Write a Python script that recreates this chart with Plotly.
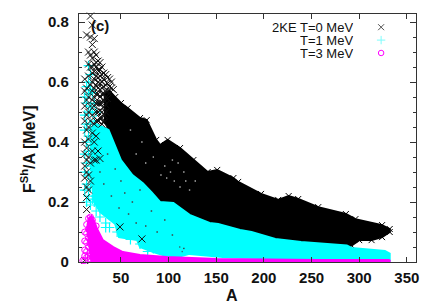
import plotly.graph_objects as go

FONT = "Liberation Sans"
# Envelopes of the dense clouds
black_upper_A = [32, 38, 44, 50, 57, 70, 77, 87, 91, 99, 112, 126, 141, 151, 168, 173, 197, 215, 226, 236, 257, 286, 296, 324, 332]
black_upper_F = [.56, .57, .55, .53, .513, .48, .473, .407, .39, .407, .38, .34, .30, .307, .28, .267, .227, .207, .22, .21, .183, .16, .143, .123, .11]
black_lower_A = [332, 324, 313, 300, 292, 287, 239, 212, 187, 175, 152, 143, 122, 105, 91, 82, 73, 62, 50, 44, 38, 32]
black_lower_F = [.10, .083, .073, .073, .055, .055, .067, .077, .10, .107, .127, .13, .157, .197, .20, .233, .263, .29, .34, .39, .44, .47]
cyan_upper_A = [18, 24, 37, 50, 62, 73, 82, 91, 105, 122, 143, 152, 175, 187, 212, 239, 287, 292, 327, 332]
cyan_upper_F = [.44, .46, .44, .34, .29, .263, .233, .20, .197, .157, .13, .127, .107, .10, .077, .067, .055, .047, .037, .028]
cyan_lower_A = [332, 300, 157, 122, 105, 84, 70, 67, 48, 44, 28, 22, 18]
cyan_lower_F = [.004, .004, .017, .027, .013, .033, .05, .073, .083, .127, .167, .20, .30]
mag_upper_A = [14, 16, 19, 22, 25, 31, 42, 52, 70, 98, 151, 236, 332]
mag_upper_F = [.10, .145, .153, .135, .11, .073, .05, .033, .023, .017, .01, .008, .004]
mag_lower_A = [332, 18]
mag_lower_F = [0, 0]
zero_A = [20, 332]
zero_F = [0, 0]

# Individually visible markers at low A
black_points = {
    12: [.61, .57, .52, .47, .40, .36, .32, .28, .005],
    14: [.757, .58, .54, .49, .44, .38, .34, .30, .25, .215, .175],
    16: [.70, .66, .62, .55, .50, .45, .41, .35, .29, .24],
    18: [.82, .75, .69, .65, .59, .52, .47, .33, .27],
    20: [.79, .725, .68, .65, .63, .60, .57, .54, .49, .43, .37],
    22: [.745, .70, .66, .635, .61, .58, .55, .52, .46, .40, .34],
    24: [.69, .665, .65, .62, .59, .56, .53, .50, .47, .42, .34],
    26: [.67, .64, .615, .60, .58, .56, .53, .50, .47, .37],
    28: [.665, .64, .62, .595, .575, .55, .53, .505, .48, .345],
    30: [.65, .625, .60, .58, .56, .53, .50, .48, .46],
    32: [.63, .61, .585, .56, .54, .515, .49, .465],
    34: [.625, .59, .57, .55, .525, .50],
    36: [.615, .595, .57, .545],
    38: [.61, .585],
    40: [.60, .58],
    42: [.575],
    49: [.117],
    72: [.077],
}
cyan_points = {
    12: [.55, .49, .44, .36, .30, .24],
    14: [.585, .53, .46, .40, .33, .26, .20],
    16: [.655, .60, .56, .50, .42, .37, .29, .22],
    18: [.625, .575, .52, .46, .39, .32, .25, .19],
    20: [.565, .50, .44, .36, .28, .21],
    22: [.53, .47, .41, .34, .27, .20],
    24: [.50, .44, .22, .17],
    28: [.15],
    34: [.13, .115],
    38: [.115],
    46: [.10],
    52: [.11],
    60: [.075, .09],
    70: [.06],
    78: [.045, .035],
    84: [.045],
    113: [.04],
}
mag_points = {
    10: [.005],
    12: [.10, .07, .04, .02, .005],
    14: [.125, .095, .065, .035, .015],
    16: [.145, .11, .08, .05, .02],
    18: [.15, .125, .09, .06, .03, .01],
    20: [.14, .105, .07, .04, .015],
    24: [.12, .085, .02, .01],
    30: [.015, .01],
    38: [.01],
}
# light gaps seen inside the black cloud
gap_A = [60, 66, 72, 76, 84, 92, 96, 98, 102, 104, 106, 110, 112, 116, 118, 122, 128]
gap_F = [.44, .36, .40, .33, .35, .29, .32, .28, .30, .34, .27, .33, .25, .30, .27, .24, .27]
# dark specks seen inside the cyan cloud
speck_A = [28, 32, 36, 40, 44, 48, 50, 54, 58, 62, 66, 70, 76, 82, 88, 96, 104, 112, 114, 116]
speck_F = [.30, .26, .36, .22, .31, .18, .27, .23, .16, .20, .13, .24, .12, .17, .10, .14, .09, .05, .035, .045]

legend_labels = ["2KE T=0 MeV", "T=1 MeV", "T=3 MeV"]
legend_A = [323, 323, 323]
legend_F = [.783, .74, .697]
x_ticks = [50, 100, 150, 200, 250, 300, 350]
y_ticks = [0, .2, .4, .6, .8]
y_tick_text = ["0", "0.2", "0.4", "0.6", "0.8"]
BLACK, CYAN, MAGENTA = "#000000", "#00ffff", "#ff00ff"


def flat(d):
    xs, ys = [], []
    for a, vals in d.items():
        for v in vals:
            xs.append(a)
            ys.append(v)
    return xs, ys


fig = go.Figure()


def band(xu, yu, xl, yl, color, name, sym=None):
    fig.add_trace(go.Scatter(x=xu + xl, y=yu + yl, mode="lines+markers" if sym else "lines", fill="toself",
                             fillcolor=color, line=dict(color=color, width=2),
                             marker=dict(symbol=sym or "circle", size=6, color=color, line=dict(color=color, width=1)),
                             name=name, showlegend=False, cliponaxis=False))


band(black_upper_A, black_upper_F, black_lower_A, black_lower_F, BLACK, "T=0 band", "x-thin")
fig.add_trace(go.Scatter(x=gap_A, y=gap_F, mode="markers", showlegend=False,
                         marker=dict(symbol="square", size=1.4, color="#b0b0b0", line=dict(width=0))))
bx, by = flat(black_points)
band(cyan_upper_A, cyan_upper_F, cyan_lower_A, cyan_lower_F, CYAN, "T=1 band")
fig.add_trace(go.Scatter(x=speck_A, y=speck_F, mode="markers", showlegend=False,
                         marker=dict(symbol="square", size=1.5, color="#404040", line=dict(width=0))))
cx, cy = flat(cyan_points)
fig.add_trace(go.Scatter(x=cx, y=cy, mode="markers", showlegend=False, cliponaxis=False,
                         marker=dict(symbol="cross-thin", size=7, line=dict(color=CYAN, width=1.2), color=CYAN)))
fig.add_trace(go.Scatter(x=bx, y=by, mode="markers", showlegend=False, cliponaxis=False,
                         marker=dict(symbol="x-thin", size=7, line=dict(color="#101010", width=1), color=BLACK)))
band(mag_upper_A, mag_upper_F, mag_lower_A, mag_lower_F, MAGENTA, "T=3 band")
mx, my = flat(mag_points)
fig.add_trace(go.Scatter(x=mx, y=my, mode="markers", showlegend=False, cliponaxis=False,
                         marker=dict(symbol="circle-open", size=6, line=dict(color=MAGENTA, width=1), color=MAGENTA)))
fig.add_trace(go.Scatter(x=zero_A, y=zero_F, mode="lines", showlegend=False, cliponaxis=False,
                         line=dict(color=MAGENTA, width=6)))

# legend keys
for a, f, sym, col, sz in zip(legend_A, legend_F, ["x-thin", "cross-thin", "circle-open"],
                              ["#505050", "#7ffcfc", MAGENTA], [6, 6, 5.5]):
    fig.add_trace(go.Scatter(x=[a], y=[f], mode="markers", showlegend=False,
                             marker=dict(symbol=sym, size=sz, line=dict(color=col, width=1), color=col)))

ann = []
for lab, f in zip(legend_labels, legend_F):
    ann.append(dict(x=287, y=f, xref="x", yref="y", text=lab, showarrow=False, xanchor="right", yanchor="middle",
                    xshift=8, height=12, font=dict(family=FONT, size=13, color="#111111")))
ann.append(dict(x=16, y=.79, xref="x", yref="y", text="<b>(c)</b>", showarrow=False, xanchor="left",
                yanchor="middle", font=dict(family=FONT, size=15, color="#111111")))
# axis titles
ann.append(dict(x=(232 - 79) / 337, y=-(295 - 262) / 248, xref="paper", yref="paper", text="<b>A</b>",
                showarrow=False, xanchor="center", yanchor="middle", font=dict(family=FONT, size=16, color="#111111")))
ann.append(dict(x=(28 - 79) / 337, y=(262 - 150) / 248, xref="paper", yref="paper",
                text="<b>F<sup>Sh</sup>/A [MeV]</b>", textangle=-90,
                showarrow=False, xanchor="center", yanchor="middle", font=dict(family=FONT, size=16, color="#111111")))
fig.update_layout(
    width=436, height=304, autosize=False, paper_bgcolor="white", plot_bgcolor="white",
    margin=dict(l=71, r=28, t=6, b=50, autoexpand=False), showlegend=False, annotations=ann,
    font=dict(family=FONT, size=15, color="#111111"),
    xaxis=dict(range=[6, 359.6], tickvals=x_ticks, ticks="inside", ticklen=5, tickwidth=1, tickcolor="#333",
               showgrid=False, zeroline=False, showline=True, linecolor="#333", linewidth=1.3, mirror="ticks",
               layer="above traces", ticklabelstandoff=2,
               tickfont=dict(family=FONT, size=15, weight="bold")),
    yaxis=dict(range=[0, .827], tickvals=y_ticks, ticktext=y_tick_text, ticks="inside", ticklen=6, tickwidth=1,
               tickcolor="#333", showgrid=False, zeroline=False, showline=True, linecolor="#333", linewidth=1.3,
               mirror="ticks", layer="above traces", ticklabelstandoff=6,
               minor=dict(dtick=.05, tick0=0, ticks="inside", ticklen=3, tickcolor="#333", tickwidth=1),
               tickfont=dict(family=FONT, size=15, weight="bold")),
)
fig.write_html("out.html")
